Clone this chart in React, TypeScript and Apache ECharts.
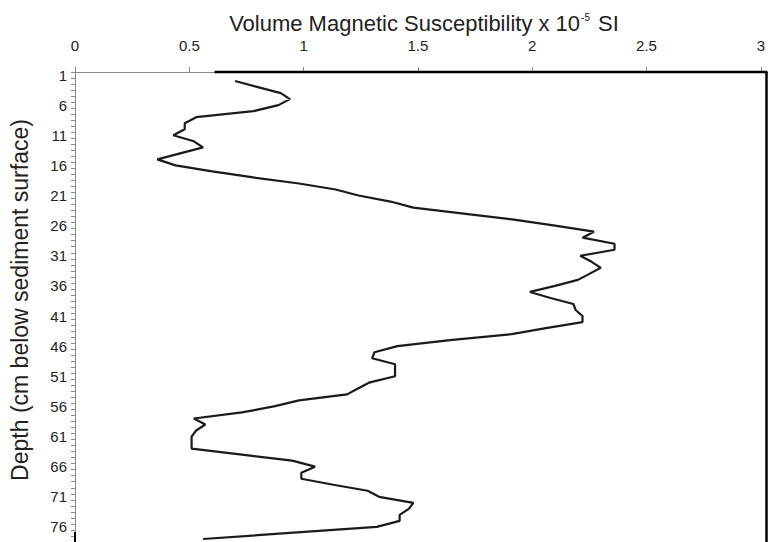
import React, { useEffect, useRef } from "react";
import * as echarts from "echarts";

// Depth categories (cm below sediment surface)
const depths: string[] = Array.from({ length: 78 }, (_, i) => String(i + 1));

// Volume magnetic susceptibility (x 10^-5 SI) per depth
const susceptibility: (number | null)[] = [
  null, 0.70, 0.80, 0.90, 0.94, 0.89, 0.78, 0.53, 0.48, 0.48,
  0.43, 0.52, 0.56, 0.46, 0.36, 0.44, 0.60, 0.78, 0.98, 1.14,
  1.24, 1.38, 1.48, 1.70, 1.92, 2.10, 2.27, 2.22, 2.36, 2.36,
  2.21, 2.26, 2.30, 2.25, 2.20, 2.10, 1.99, 2.08, 2.18, 2.19,
  2.22, 2.22, 2.06, 1.91, 1.64, 1.41, 1.31, 1.30, 1.40, 1.40,
  1.40, 1.29, 1.24, 1.19, 0.98, 0.87, 0.73, 0.52, 0.57, 0.53,
  0.51, 0.51, 0.51, 0.73, 0.95, 1.05, 0.99, 0.99, 1.13, 1.28,
  1.33, 1.48, 1.46, 1.42, 1.42, 1.32, 0.94, 0.56,
];

const X_MIN = 0;
const X_MAX = 3;
const X_STEP = 0.5;
const FRAME_START = 0.61;

const GRID_LEFT = 75;
const GRID_TOP = 72;
const GRID_RIGHT = 1;
const GRID_BOTTOM = -2;

export default function App() {
  const ref = useRef<HTMLDivElement>(null);

  useEffect(() => {
    if (!ref.current) return;
    const chart = echarts.init(ref.current, null, { renderer: "svg" });
    const font = "'Liberation Sans', Arial, sans-serif";
    const textColor = "#222";
    const axisGray = "#8a8a8a";

    const data = susceptibility
      .map((v, i) => (v == null ? null : [v, depths[i]]))
      .filter((d) => d !== null);

    chart.setOption({
      animation: false,
      backgroundColor: "#fff",
      title: {
        text: "Volume Magnetic Susceptibility x 10{sup|-5} SI",
        left: 419,
        top: 7,
        textAlign: "center",
        textStyle: {
          fontFamily: font,
          fontSize: 22,
          fontWeight: "normal",
          color: textColor,
          rich: {
            sup: {
              fontFamily: font,
              fontSize: 10,
              color: textColor,
              verticalAlign: "top",
              padding: [0, 2, 0, 1],
            },
          },
        },
      },
      grid: {
        left: GRID_LEFT,
        top: GRID_TOP,
        right: GRID_RIGHT,
        bottom: GRID_BOTTOM,
        containLabel: false,
      },
      xAxis: {
        type: "value",
        position: "top",
        min: X_MIN,
        max: X_MAX,
        interval: X_STEP,
        axisLine: { show: true, lineStyle: { color: axisGray, width: 1 } },
        axisTick: { show: true, inside: false, length: 5, lineStyle: { color: axisGray } },
        axisLabel: {
          show: true,
          margin: 19,
          fontFamily: font,
          fontSize: 15,
          color: textColor,
        },
        splitLine: { show: false },
      },
      yAxis: {
        type: "category",
        data: depths,
        inverse: true,
        boundaryGap: true,
        name: "Depth (cm below sediment surface)",
        nameLocation: "middle",
        nameGap: 44,
        nameTextStyle: {
          fontFamily: font,
          fontSize: 23,
          color: textColor,
          padding: [0, 0, 0, 14],
        },
        axisLine: { show: true, lineStyle: { color: axisGray, width: 1 } },
        axisTick: {
          show: true,
          interval: 0,
          alignWithLabel: false,
          length: 4,
          lineStyle: { color: axisGray },
        },
        axisLabel: {
          show: true,
          interval: 4,
          margin: 8,
          fontFamily: font,
          fontSize: 15,
          color: textColor,
        },
        splitLine: { show: false },
      },
      series: [
        {
          type: "line",
          data,
          showSymbol: false,
          symbol: "none",
          lineStyle: { color: "#1a1a1a", width: 2.2 },
          connectNulls: false,
          z: 3,
        },
      ],
    });

    const W = chart.getWidth();
    const H = chart.getHeight();
    const xStart = chart.convertToPixel({ xAxisIndex: 0 }, FRAME_START) as number;
    const right = W - GRID_RIGHT - 0.5;
    const bottom = H - GRID_BOTTOM;
    chart.setOption({
      graphic: [
        {
          type: "line",
          shape: { x1: xStart, y1: GRID_TOP, x2: right + 1, y2: GRID_TOP },
          style: { stroke: "#000", lineWidth: 2.5 },
          z: 10,
        },
        {
          type: "line",
          shape: { x1: right, y1: GRID_TOP, x2: right, y2: bottom },
          style: { stroke: "#000", lineWidth: 2.5 },
          z: 10,
        },
        {
          type: "line",
          shape: { x1: GRID_LEFT, y1: 532, x2: GRID_LEFT, y2: bottom },
          style: { stroke: "#000", lineWidth: 2 },
          z: 10,
        },
      ],
    });

    return () => chart.dispose();
  }, []);

  return (
    <div
      ref={ref}
      style={{ position: "absolute", left: 0, top: 0, width: 768, height: 542 }}
    />
  );
}
